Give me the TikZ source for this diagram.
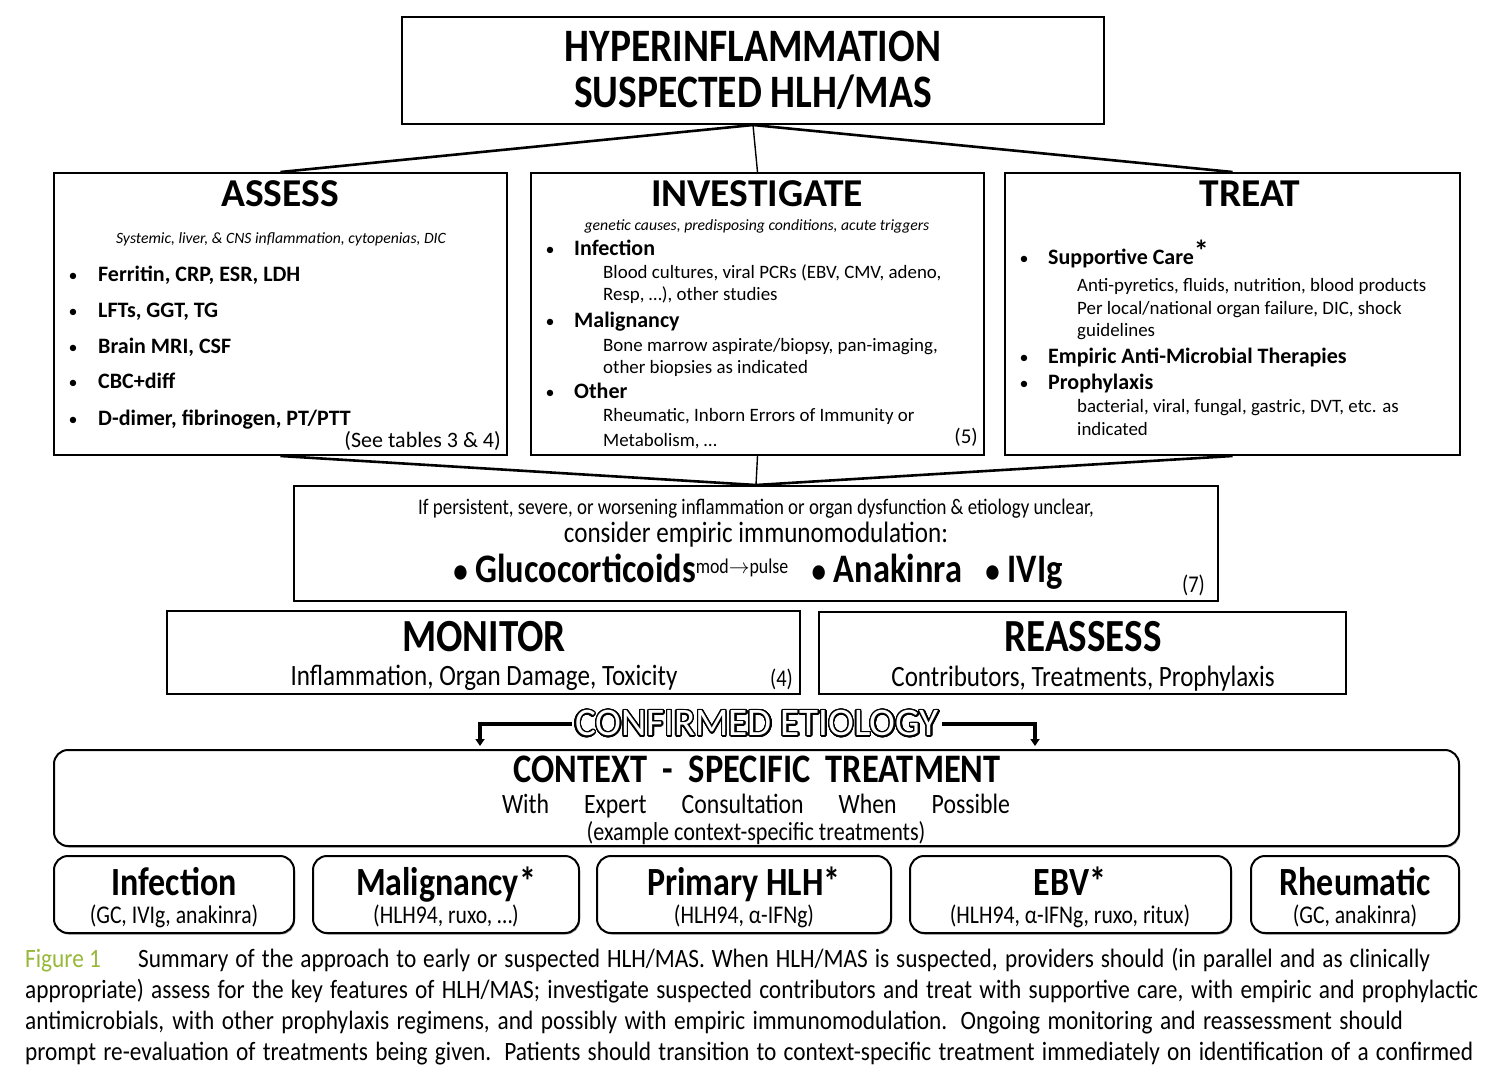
\documentclass[tikz,border=0pt]{standalone}
\usepackage{fontspec}
\setmainfont{Carlito}
\newfontfamily\narrowfont[FakeStretch=0.85]{Carlito}
\newfontfamily\capfont[FakeStretch=0.88]{Carlito}
\usepackage{contour}
\contourlength{1.4pt}
\contournumber{32}
\usetikzlibrary{arrows.meta,shadows}
\definecolor{figgreen}{RGB}{152,184,58}

\begin{document}
\begin{tikzpicture}[x=1pt,y=-1pt,>=Stealth,
  box/.style={draw,line width=2pt,inner sep=0pt},
  rbox/.style={box,fill=white,rounded corners=14pt,drop shadow={shadow xshift=1pt,shadow yshift=-1.5pt,opacity=0.8}},
  link/.style={line width=2.6pt},
  stem/.style={line width=1.4pt},
  head/.style={font=\fontsize{39.5}{41}\selectfont\bfseries},
  item/.style={anchor=base west,font=\fontsize{22}{24}\selectfont\bfseries,inner sep=0pt},
  sub/.style={anchor=base west,font=\fontsize{18.9}{21}\selectfont,inner sep=0pt},
  dot/.style={anchor=base,font=\fontsize{18}{20}\selectfont,inner sep=0pt},
  note/.style={font=\fontsize{15.7}{17}\selectfont\itshape,anchor=base,inner sep=0pt},
  ntitle/.style={anchor=base,inner sep=0pt,font=\narrowfont\fontsize{46}{48}\selectfont\bfseries},
  nline/.style={anchor=base,inner sep=0pt,font=\narrowfont\fontsize{29.5}{31}\selectfont},
  pick/.style={anchor=base,inner sep=0pt,font=\narrowfont\fontsize{40}{42}\selectfont\bfseries},
  picknote/.style={anchor=base,inner sep=0pt,font=\narrowfont\fontsize{25.5}{27}\selectfont},
  capline/.style={anchor=base west,inner sep=0pt,font=\capfont\fontsize{26.5}{28}\selectfont}]
\useasboundingbox[fill=white] (0,0) rectangle (1511,1078);

% boxes
\node[box,minimum width=702,minimum height=107] (hyper) at (753,70.5) {};
\node[box,minimum width=453,minimum height=282] (assess) at (280.5,314) {};
\node[box,minimum width=453,minimum height=282] (invest) at (757.5,314) {};
\node[box,minimum width=455,minimum height=282] (treat) at (1232.5,314) {};
\node[box,minimum width=924,minimum height=115] (immuno) at (756,543.5) {};
\node[box,minimum width=633,minimum height=83] (monitor) at (483.5,652.5) {};
\node[box,minimum width=527,minimum height=82] (reassess) at (1082.5,653) {};
\node[rbox,minimum width=1405,minimum height=96] (context) at (756.5,798) {};
\node[rbox,minimum width=240,minimum height=77] (infect) at (174,894.5) {};
\node[rbox,minimum width=266,minimum height=77] (malig) at (446,894.5) {};
\node[rbox,minimum width=294,minimum height=77] (primary) at (744,894.5) {};
\node[rbox,minimum width=321,minimum height=77] (ebv) at (1070.5,894.5) {};
\node[rbox,minimum width=208,minimum height=77] (rheum) at (1355,894.5) {};

% connectors
\draw[link] (hyper.south) -- (assess.north);
\draw[link] (hyper.south) -- (treat.north);
\draw[stem] (hyper.south) -- (invest.north);
\draw[link] (assess.south) -- (immuno.north);
\draw[link] (treat.south) -- (immuno.north);
\draw[stem] (invest.south) -- (immuno.north);

% top
\node[anchor=base,inner sep=0pt,font=\narrowfont\fontsize{46.5}{48}\selectfont\bfseries] (hyp1) at (753,62) {HYPERINFLAMMATION};
\node[anchor=base,inner sep=0pt,font=\narrowfont\fontsize{46.5}{48}\selectfont\bfseries] (hyp2) at (753,108) {SUSPECTED HLH/MAS};

% assess
\node[head,anchor=base,inner sep=0pt] (asst) at (280,206) {ASSESS};
\node[note] (assn) at (281,243) {Systemic, liver, \& CNS inflammation, cytopenias, DIC};
\foreach \y/\t [count=\i] in {281/{Ferritin, CRP, ESR, LDH},317/{LFTs, GGT, TG},353/{Brain MRI, CSF},388/{CBC+diff},425/{D-dimer, fibrinogen, PT/PTT}}{
  \node[dot] (ab\i) at (73,\y) {\textbullet};
  \node[item] (ai\i) at (98,\y) {\t};
}
\node[anchor=base east,inner sep=0pt,font=\fontsize{22}{24}\selectfont] (assr) at (501,447) {(See tables 3 \& 4)};

% investigate
\node[head,anchor=base,inner sep=0pt] (invt) at (757,206) {INVESTIGATE};
\node[note] (invn) at (757,230) {genetic causes, predisposing conditions, acute triggers};
\foreach \y/\t [count=\i] in {255/Infection,327/Malignancy,398/Other}{
  \node[dot] (ib\i) at (550,\y) {\textbullet};
  \node[item] (ii\i) at (574,\y) {\t};
}
\node[sub] (is1) at (603,278) {Blood cultures, viral PCRs (EBV, CMV, adeno,};
\node[sub] (is2) at (603,300) {Resp, \ldots), other studies};
\node[sub] (is3) at (603,351) {Bone marrow aspirate/biopsy, pan-imaging,};
\node[sub] (is4) at (603,373) {other biopsies as indicated};
\node[sub] (is5) at (603,421) {Rheumatic, Inborn Errors of Immunity or};
\node[sub] (is6) at (603,446) {Metabolism, \ldots};
\node[anchor=base east,inner sep=0pt,font=\fontsize{21}{23}\selectfont] (invr) at (978,443) {(5)};

% treat
\node[head,anchor=base,inner sep=0pt] (trt) at (1250,206) {TREAT};
\node[dot] (tb1) at (1024,264) {\textbullet};
\node[item] (ti1) at (1048,264) {Supportive Care\raisebox{3pt}{\fontsize{30}{30}\selectfont *}};
\node[sub] (ts1) at (1077,291) {Anti-pyretics, fluids, nutrition, blood products};
\node[sub] (ts2) at (1077,314) {Per local/national organ failure, DIC, shock};
\node[sub] (ts3) at (1077,336) {guidelines};
\node[dot] (tb2) at (1024,363) {\textbullet};
\node[item] (ti2) at (1048,363) {Empiric Anti-Microbial Therapies};
\node[dot] (tb3) at (1024,389) {\textbullet};
\node[item] (ti3) at (1048,389) {Prophylaxis};
\node[sub] (ts4) at (1077,412) {bacterial, viral, fungal, gastric, DVT, etc. as};
\node[sub] (ts5) at (1077,435) {indicated};

% immunomodulation
\node[anchor=base,inner sep=0pt,font=\narrowfont\fontsize{22.2}{24}\selectfont] (imm1) at (756,514) {If persistent, severe, or worsening inflammation or organ dysfunction \& etiology unclear,};
\node[anchor=base,inner sep=0pt,font=\narrowfont\fontsize{29.5}{31}\selectfont] (imm2) at (756,542) {consider empiric immunomodulation:};
\node[anchor=base,inner sep=0pt,font=\narrowfont\fontsize{40.5}{42}\selectfont\bfseries] (imm3) at (758,582)
  {{\fontsize{34}{34}\selectfont\textbullet}\ Glucocorticoids\raisebox{9pt}{\mdseries\fontsize{21}{22}\selectfont mod$\rightarrow$pulse}\ \ \ {\fontsize{34}{34}\selectfont\textbullet}\ Anakinra\ \ \ {\fontsize{34}{34}\selectfont\textbullet}\ IVIg};
\node[anchor=base east,inner sep=0pt,font=\narrowfont\fontsize{24}{26}\selectfont] (immr) at (1205,592) {(7)};

% monitor / reassess
\node[ntitle] (mont) at (484,651) {MONITOR};
\node[nline] (monl) at (484,685) {Inflammation, Organ Damage, Toxicity};
\node[anchor=base east,inner sep=0pt,font=\narrowfont\fontsize{24}{26}\selectfont] (monr) at (793,686) {(4)};
\node[ntitle] (reat) at (1083,651) {REASSESS};
\node[nline] (real) at (1083,686) {Contributors, Treatments, Prophylaxis};

% confirmed etiology
\node[inner sep=3pt,font=\fontsize{39}{40}\selectfont] (etio) at (757,724) {\contour{black}{\textcolor{white}{CONFIRMED ETIOLOGY}}};
\coordinate (lend) at (480,746);
\coordinate (rend) at (1035,746);
\draw[line width=4pt,-{Triangle[width=9pt,length=7pt]}] (etio.west) -| (lend);
\draw[line width=4pt,-{Triangle[width=9pt,length=7pt]}] (etio.east) -| (rend);

% context specific
\node[anchor=base,inner sep=0pt,font=\narrowfont\fontsize{40.5}{42}\selectfont\bfseries] (cst) at (757,782) {CONTEXT\ \ -\ \ SPECIFIC\ \ TREATMENT};
\node[anchor=base,inner sep=0pt,font=\narrowfont\fontsize{28}{30}\selectfont] (csw) at (756,813) {\makebox[508pt][s]{With Expert Consultation When Possible}};
\node[anchor=base,inner sep=0pt,font=\narrowfont\fontsize{26}{28}\selectfont] (cse) at (756,840) {(example context-specific treatments)};

\node[pick] (p1) at (174,895) {Infection};
\node[picknote] (n1) at (174,923) {(GC, IVIg, anakinra)};
\node[pick] (p2) at (446,895) {Malignancy*};
\node[picknote] (n2) at (446,923) {(HLH94, ruxo, \ldots)};
\node[pick] (p3) at (744,895) {Primary HLH*};
\node[picknote] (n3) at (744,923) {(HLH94, α-IFNg)};
\node[pick] (p4) at (1070,895) {EBV*};
\node[picknote] (n4) at (1070,923) {(HLH94, α-IFNg, ruxo, ritux)};
\node[pick] (p5) at (1355,895) {Rheumatic};
\node[picknote] (n5) at (1355,923) {(GC, anakinra)};

% caption
\node[capline,text=figgreen] (fig) at (25,967) {Figure 1};
\node[capline] (c1) at (138,967) {\makebox[1292pt][s]{Summary of the approach to early or suspected HLH/MAS. When HLH/MAS is suspected, providers should (in parallel and as clinically}};
\node[capline] (c2) at (25,998) {\makebox[1453pt][s]{appropriate) assess for the key features of HLH/MAS; investigate suspected contributors and treat with supportive care, with empiric and prophylactic}};
\node[capline] (c3) at (25,1029) {\makebox[1378pt][s]{antimicrobials, with other prophylaxis regimens, and possibly with empiric immunomodulation. Ongoing monitoring and reassessment should}};
\node[capline] (c4) at (25,1060) {\makebox[1448pt][s]{prompt re-evaluation of treatments being given. Patients should transition to context-specific treatment immediately on identification of a confirmed}};
\end{tikzpicture}
\end{document}
